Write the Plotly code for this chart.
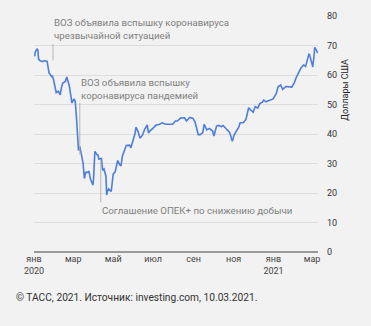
import plotly.graph_objects as go

dates = [
    "2020-01-02","2020-01-03","2020-01-06","2020-01-07","2020-01-08","2020-01-10","2020-01-14","2020-01-16","2020-01-17",
    "2020-01-21","2020-01-22","2020-01-24","2020-01-28","2020-01-29","2020-01-31","2020-02-03","2020-02-04","2020-02-07",
    "2020-02-10","2020-02-12","2020-02-14","2020-02-18","2020-02-20","2020-02-24","2020-02-26","2020-02-28",
    "2020-03-02","2020-03-04","2020-03-06","2020-03-09","2020-03-11","2020-03-13","2020-03-16","2020-03-18",
    "2020-03-20","2020-03-23","2020-03-25","2020-03-27","2020-03-30","2020-03-31","2020-04-01","2020-04-02",
    "2020-04-03","2020-04-06","2020-04-08","2020-04-09","2020-04-13","2020-04-15","2020-04-17","2020-04-20",
    "2020-04-21","2020-04-22","2020-04-24","2020-04-28","2020-04-29","2020-04-30","2020-05-01","2020-05-04",
    "2020-05-06","2020-05-08","2020-05-11","2020-05-13","2020-05-15","2020-05-19","2020-05-21","2020-05-26",
    "2020-05-28","2020-06-01","2020-06-03","2020-06-05","2020-06-08","2020-06-11","2020-06-15","2020-06-18",
    "2020-06-22","2020-06-24","2020-06-26","2020-07-01","2020-07-06","2020-07-10","2020-07-15","2020-07-20",
    "2020-07-24","2020-07-31","2020-08-04","2020-08-07","2020-08-12","2020-08-18","2020-08-21","2020-08-26",
    "2020-08-31","2020-09-03","2020-09-08","2020-09-11","2020-09-15","2020-09-17","2020-09-21","2020-09-25",
    "2020-09-30","2020-10-02","2020-10-06","2020-10-09","2020-10-13","2020-10-16","2020-10-21","2020-10-26",
    "2020-10-28","2020-10-30","2020-11-02","2020-11-05","2020-11-09","2020-11-11","2020-11-16","2020-11-20",
    "2020-11-24","2020-11-27","2020-12-01","2020-12-04","2020-12-08","2020-12-11","2020-12-15","2020-12-17",
    "2020-12-21","2020-12-23","2020-12-31","2021-01-05","2021-01-08","2021-01-12","2021-01-15","2021-01-20",
    "2021-01-26","2021-01-29","2021-02-02","2021-02-05","2021-02-10","2021-02-12","2021-02-16","2021-02-19",
    "2021-02-24","2021-02-25","2021-03-01","2021-03-02","2021-03-04","2021-03-05","2021-03-08","2021-03-09","2021-03-10",
]
prices = [
    66.3,67.9,68.9,68.3,65.4,64.9,64.5,64.6,64.9,
    64.6,63.2,60.7,59.5,59.8,58.2,54.5,54.0,54.5,
    53.3,55.8,57.3,57.8,59.3,56.3,53.4,50.5,
    51.9,51.1,45.3,34.4,35.8,33.9,30.1,24.9,
    27.0,27.0,27.4,24.9,22.8,22.7,24.7,29.9,
    34.1,33.1,32.8,31.5,31.7,27.7,28.1,25.6,
    19.3,20.4,21.4,20.5,22.5,25.3,26.4,27.2,
    29.7,31.0,29.6,29.2,32.5,34.7,36.1,36.2,
    35.3,38.3,39.8,42.3,40.8,38.6,39.7,41.5,
    43.1,40.3,41.0,42.0,43.1,43.2,43.8,43.3,
    43.3,43.3,44.4,44.4,45.4,45.5,44.4,45.6,
    45.3,44.1,39.8,39.8,40.5,43.3,41.4,41.9,
    41.0,39.3,42.7,42.9,42.5,42.9,41.7,40.5,
    39.1,37.5,39.7,40.9,42.4,43.8,43.8,45.0,
    48.9,48.2,47.4,49.3,48.8,50.3,50.8,51.5,
    50.9,51.2,51.8,53.6,56.0,56.6,55.1,56.1,
    55.9,55.9,57.5,59.3,61.5,62.4,63.4,62.9,
    67.0,66.9,63.7,62.7,66.7,69.4,68.2,67.5,67.9,
]

tick_vals = ["2020-01-01","2020-03-01","2020-05-01","2020-07-01","2020-09-01","2020-11-01","2021-01-01","2021-03-01"]
tick_text = ["янв<br>2020","мар","май","июл","сен","ноя","янв<br>2021","мар"]
y_ticks = [0, 10, 20, 30, 40, 50, 60, 70, 80]

events = [
    ("2020-01-30", 70.5, 65.0, 75.7, "ВОЗ объявила вспышку коронавируса<br>чрезвычайной ситуацией"),
    ("2020-03-11", 50.5, 33.0, 55.2, "ВОЗ объявила вспышку<br>коронавируса пандемией"),
    ("2020-04-12", 31.0, 16.8, 14.0, "Соглашение ОПЕК+ по снижению добычи"),
]

BG = "#f2f2f2"
FONT = "Roboto"

fig = go.Figure()
fig.add_trace(go.Scatter(x=dates, y=prices, mode="lines",
                         line=dict(color="#4f7ddb", width=1.6), hoverinfo="skip"))

for d, y0, y1, ytext, txt in events:
    fig.add_shape(type="line", xref="x", yref="y", x0=d, x1=d, y0=y0, y1=y1,
                  line=dict(color="#b5b5b5", width=1))
    fig.add_annotation(x=d, y=ytext, xref="x", yref="y", text=txt, showarrow=False,
                       xanchor="left", yanchor="middle", align="left", xshift=-1,
                       font=dict(family=FONT, size=9.7, color="#808080"))

fig.add_annotation(x=-20/284, y=-45/236, xref="paper", yref="paper", xanchor="left", yanchor="middle",
                   text="© ТАСС, 2021. Источник: investing.com, 10.03.2021.", showarrow=False,
                   font=dict(family=FONT, size=10.2, color="#333333"))

fig.add_annotation(x=(345 - 34) / 284, y=55.0, xref="paper", yref="y", textangle=-90,
                   xanchor="center", yanchor="middle", text="Доллары США", showarrow=False,
                   font=dict(family=FONT, size=9, color="#222222"))

fig.update_layout(
    width=371, height=326,
    margin=dict(l=34, r=53, t=16, b=74),
    paper_bgcolor=BG, plot_bgcolor=BG,
    showlegend=False,
    font=dict(family=FONT, size=9, color="#333333"),
    xaxis=dict(range=["2020-01-01", "2021-03-10"], tickvals=tick_vals, ticktext=tick_text,
               showgrid=False, zeroline=False, showline=False, ticks="",
               tickfont=dict(size=9, color="#444444"), fixedrange=True),
    yaxis=dict(range=[0, 80], tickvals=y_ticks, side="right", showgrid=True,
               gridcolor="#dddddd", gridwidth=1, zeroline=True, zerolinecolor="#9a9a9a",
               zerolinewidth=2, ticks="", ticklabelstandoff=8,
               tickfont=dict(size=9, color="#333333")),
)

fig.write_html("out.html")
